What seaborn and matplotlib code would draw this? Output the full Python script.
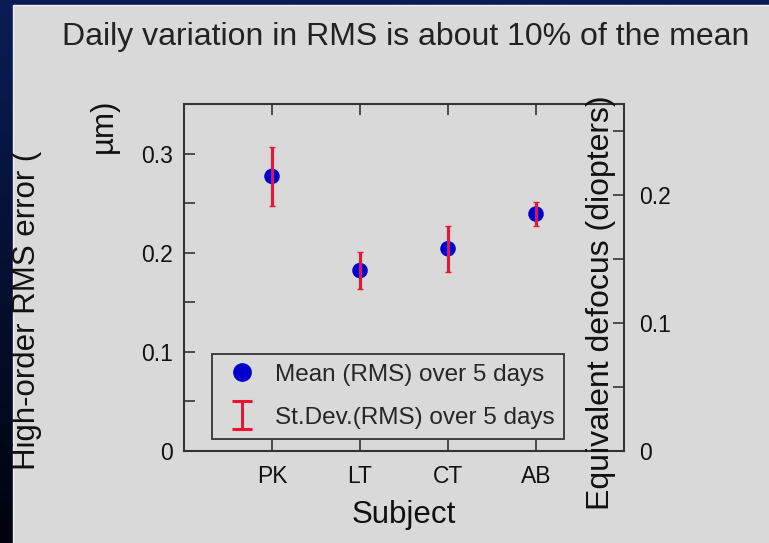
import numpy as np
import pandas as pd
import matplotlib
matplotlib.use("Agg")
import matplotlib.pyplot as plt
import seaborn as sns
from matplotlib.patches import Rectangle
from matplotlib.lines import Line2D
from matplotlib.path import Path
from matplotlib.ticker import MultipleLocator

# values (RMS in micrometres)
subjects = ["PK", "LT", "CT", "AB"]
rms_mean = [0.277, 0.182, 0.204, 0.239]
rms_sd = [0.030, 0.019, 0.023, 0.012]
defocus_top = 0.271  # right axis top, diopters (matches 0.35 um at 6 mm pupil)

panel_gray = "#d9d9d9"
mean_blue = "#0000cc"
sd_red = "#ff0a33"

sns.set_theme(style="ticks")
plt.rcParams["font.family"] = ["Liberation Sans", "DejaVu Sans"]

df = pd.DataFrame({"subject": subjects, "mean": rms_mean, "sd": rms_sd})

fig = plt.figure(figsize=(7.69, 5.43), dpi=100)

# slide background: navy gradient border + gray panel
bg = fig.add_axes([0, 0, 1, 1], zorder=-10)
grad = np.linspace(0, 1, 256).reshape(-1, 1)
top_c = np.array([0x0b, 0x1c, 0x57]) / 255
bot_c = np.array([0x00, 0x03, 0x0d]) / 255
img = top_c[None, None, :] * (1 - grad[..., None]) + bot_c[None, None, :] * grad[..., None]
bg.imshow(img, aspect="auto", extent=[0, 1, 0, 1])
bg.add_patch(Rectangle((13 / 769, -0.01), 1, 1 - 4.5 / 543 + 0.01, facecolor=panel_gray,
                       edgecolor="#f0f0f0", lw=1))
bg.set_xlim(0, 1)
bg.set_ylim(0, 1)
bg.axis("off")

ax = fig.add_axes([184 / 769, 1 - 451 / 543, 440 / 769, 347 / 543])
ax.set_facecolor("none")

sns.scatterplot(data=df, x="subject", y="mean", ax=ax, s=125, color=mean_blue,
                edgecolor="none", zorder=3, legend=False)
ax.errorbar(df["subject"], df["mean"], yerr=df["sd"], fmt="none", ecolor=sd_red,
            elinewidth=2.3, capsize=2.5, capthick=1, zorder=4)

ax.set_xlim(-1, 4)
ax.set_ylim(0, 0.35)
ax.yaxis.set_major_locator(MultipleLocator(0.1))
ax.yaxis.set_minor_locator(MultipleLocator(0.05))
ax.set_yticks([0, 0.1, 0.2, 0.3])
ax.set_yticklabels(["0", "0.1", "0.2", "0.3"])
ax.tick_params(axis="both", which="both", direction="in", length=8, width=1.2,
               color="#333333", labelsize=16.5, labelcolor="#111111")
ax.tick_params(axis="x", top=True, pad=10)
ax.tick_params(axis="y", pad=8)
for sp in ax.spines.values():
    sp.set_color("#333333")
    sp.set_linewidth(1.5)

ax.set_xlabel("Subject", fontsize=22.5, color="#111111", labelpad=9)
ax.set_ylabel("")

ax2 = ax.twinx()
ax2.set_ylim(0, defocus_top)
ax2.set_yticks([0, 0.1, 0.2])
ax2.set_yticklabels(["0", "0.1", "0.2"])
ax2.yaxis.set_minor_locator(MultipleLocator(0.05))
ax2.tick_params(axis="y", which="both", direction="in", length=8, width=1.2,
                color="#333333", labelsize=16.5, labelcolor="#111111", pad=11)
for sp in ax2.spines.values():
    sp.set_visible(False)

# legend: blue dot and an I-shaped error bar symbol
ibeam = Path([(-0.36, -0.5), (0.36, -0.5), (0, -0.5), (0, 0.5), (-0.36, 0.5), (0.36, 0.5)],
             [Path.MOVETO, Path.LINETO, Path.MOVETO, Path.LINETO, Path.MOVETO, Path.LINETO])
handles = [
    Line2D([], [], ls="none", marker="o", markersize=13.5, color=mean_blue, markeredgewidth=0),
    Line2D([], [], ls="none", marker=ibeam, markersize=20, color=sd_red,
           markerfacecolor="none", markeredgewidth=2.2),
]
leg = ax.legend(handles, ["Mean (RMS) over 5 days", "St.Dev.(RMS) over 5 days"],
                loc="lower left", bbox_to_anchor=(0.064, 0.035), borderaxespad=0,
                fontsize=17.5, frameon=True, fancybox=False, edgecolor="#333333",
                facecolor=panel_gray, framealpha=1, handletextpad=0.55, borderpad=0.42,
                labelspacing=0.85, handlelength=1.6)
leg.get_frame().set_linewidth(1.3)

# titles and axis labels as on the slide
fig.text(406 / 769, 1 - 37 / 543, "Daily variation in RMS is about 10% of the mean",
         ha="center", va="center", fontsize=23, color="#222222")
fig.text(27 / 769, 1 - 310 / 543, "High-order RMS error (", rotation=90,
         ha="center", va="center", fontsize=22.5, color="#111111")
fig.text(104 / 769, 1 - 126 / 543, "µm)", rotation=90,
         ha="center", va="center", fontsize=22.5, color="#111111")
fig.text(601 / 769, 1 - 303 / 543, "Equivalent defocus (diopters)", rotation=90,
         ha="center", va="center", fontsize=23, color="#111111")

fig.savefig("out.png", dpi=100, facecolor=fig.get_facecolor())
